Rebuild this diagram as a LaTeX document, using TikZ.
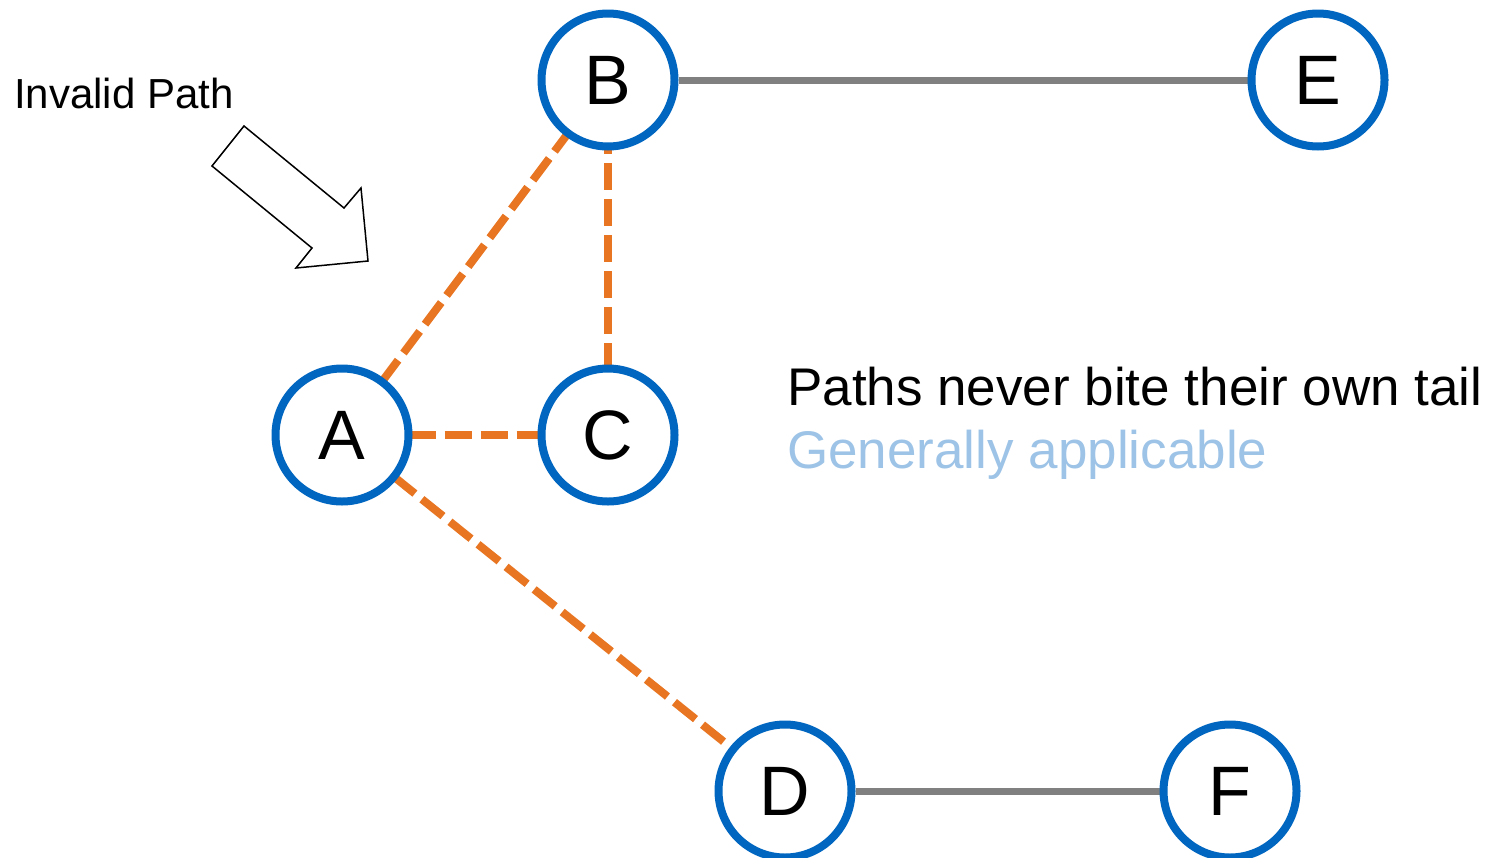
\documentclass[tikz,border=0pt]{standalone}
\usepackage{fontspec}
\setmainfont{Liberation Sans}
\usetikzlibrary{backgrounds}
\definecolor{nodeblue}{RGB}{0,102,192}
\definecolor{pathorange}{RGB}{232,117,34}
\definecolor{linkgray}{RGB}{128,128,128}
\definecolor{lightblue}{RGB}{157,195,230}
\tikzset{
  vertex/.style={circle, draw=nodeblue, line width=8pt, fill=white,
    minimum size=133pt, inner sep=0pt,
    font=\fontsize{70}{84}\selectfont},
  badlink/.style={draw=pathorange, line width=8pt, dash pattern=on 27pt off 9pt,
    shorten <=-4pt, shorten >=-4pt},
  link/.style={draw=linkgray, line width=7pt},
  caption/.style={anchor=base west, inner sep=0pt},
  hintarrow/.style={draw=black, line width=1.5pt, fill=white, line join=miter}
}
\begin{document}
\begin{tikzpicture}[x=1pt,y=-1pt]
  \useasboundingbox (0,0) rectangle (1488,857);

  % vertices
  \node[vertex] (B) at (608,80) {B};
  \node[vertex] (E) at (1318,80) {E};
  \node[vertex] (A) at (342,435) {A};
  \node[vertex] (C) at (608,435) {C};
  \node[vertex] (D) at (785,791) {D};
  \node[vertex] (F) at (1230,791) {F};

  % connectors sit beneath the circles
  \begin{pgfonlayer}{background}
    \draw[link] (B) -- (E);
    \draw[link] (D) -- (F);
    \draw[badlink] (A) -- (B);
    \draw[badlink, dash phase=19.5pt] (B) -- (C);
    \draw[badlink] (A) -- (C);
    \draw[badlink] (A) -- (D);
  \end{pgfonlayer}

  % block arrow pointing at the invalid path
  \draw[hintarrow] (244,126) -- (344,208) -- (361,188) -- (368,261)
    -- (296,268) -- (312,248) -- (212,166) -- cycle;

  % labels
  \node[caption, font=\fontsize{42}{50}\selectfont] (lbl) at (14,108) {Invalid Path};
  \node[caption, font=\fontsize{53}{64}\selectfont] (rule) at (787,405)
    {Paths never bite their own tail};
  \node[caption, font=\fontsize{53}{64}\selectfont, text=lightblue] (scope) at (787,468)
    {Generally applicable};
\end{tikzpicture}
\end{document}
